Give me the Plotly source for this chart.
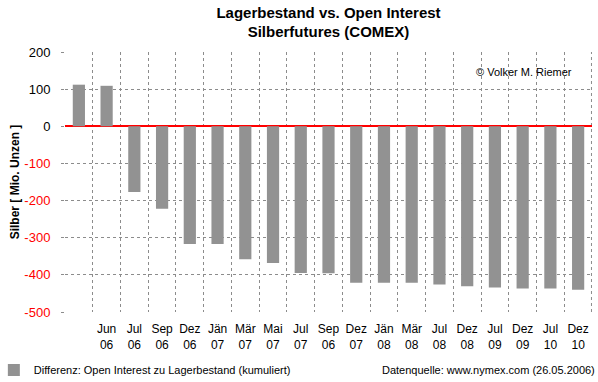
import plotly.graph_objects as go

# ---- data ----
categories = ["", "Jun<br>06", "Jul<br>06", "Sep<br>06", "Dez<br>06", "Jän<br>07", "Mär<br>07",
              "Mai<br>07", "Jul<br>07", "Sep<br>06", "Dez<br>07", "Jän<br>08", "Mär<br>08",
              "Jul<br>08", "Dez<br>08", "Jul<br>09", "Dez<br>09", "Jul<br>10", "Dez<br>10"]
values = [112, 109, -177, -222, -317, -317, -358, -368, -395, -396, -421, -421, -421,
          -426, -431, -434, -437, -437, -440]
y_ticks = [200, 100, 0, -100, -200, -300, -400, -500]

positions = list(range(len(categories)))
y_ticktext = [("<span style='color:#ff0000'>%d</span>" % v) if v < 0 else str(v) for v in y_ticks]

FONT = "Arial, Liberation Sans, sans-serif"
GRID = "#8c8c8c"

fig = go.Figure()
fig.add_trace(go.Bar(
    x=positions, y=values,
    name="Differenz: Open Interest zu Lagerbestand (kumuliert)",
    marker=dict(color="#929292", line=dict(width=0)),
    width=0.44,
))

fig.update_layout(
    width=598, height=382,
    paper_bgcolor="white", plot_bgcolor="white",
    margin=dict(l=65, r=6, t=52, b=70, autoexpand=False),
    font=dict(family=FONT, size=12, color="black"),
    title=dict(
        text="<b>Lagerbestand vs. Open Interest<br>Silberfutures (COMEX)</b>",
        x=0.5, xref="paper", xanchor="center",
        y=0.953, yref="container", yanchor="top",
        font=dict(family=FONT, size=15, color="black"),
    ),
    showlegend=True,
    legend=dict(
        x=-0.135, y=-0.223, xanchor="left", yanchor="middle",
        font=dict(family=FONT, size=11, color="black"),
        bgcolor="rgba(0,0,0,0)", itemwidth=30,
    ),
    bargap=0.5,
)

fig.update_xaxes(
    range=[-0.5, len(categories) - 0.5],
    tickmode="array", tickvals=positions, ticktext=categories,
    showgrid=False, zeroline=False, showline=False, automargin=False,
    ticks="", tickfont=dict(family=FONT, size=12, color="black"),
    tickangle=0, ticklabelstandoff=8,
    minor=dict(tick0=-0.5, dtick=1, showgrid=True, gridcolor=GRID,
               griddash="3px,3px", gridwidth=1),
)
fig.update_yaxes(
    range=[-500, 200],
    tickmode="array", tickvals=y_ticks, ticktext=y_ticktext,
    showgrid=True, gridcolor=GRID, griddash="3px,3px", gridwidth=1,
    zeroline=True, zerolinecolor="#ff0000", zerolinewidth=2,
    showline=False, ticks="outside", ticklen=3, tickcolor=GRID,
    tickfont=dict(family=FONT, size=13, color="black"), automargin=False,
    ticklabelstandoff=8,
    title=dict(text="<b>Silber [ Mio. Unzen ]</b>", font=dict(family=FONT, size=12), standoff=2),
)

# dashed frame on the right side of the plot area
fig.add_shape(type="line", xref="paper", yref="paper", x0=0.999, x1=0.999, y0=0, y1=1,
              line=dict(color=GRID, width=1, dash="3px,3px"), layer="below")

fig.add_annotation(
    text="© Volker M. Riemer", xref="paper", yref="paper",
    x=0.965, y=0.923, xanchor="right", yanchor="middle", showarrow=False,
    font=dict(family=FONT, size=11, color="black"),
)
fig.add_annotation(
    text="Datenquelle: www.nymex.com (26.05.2006)", xref="paper", yref="paper",
    x=1.0095, y=-0.223, xanchor="right", yanchor="middle", showarrow=False,
    font=dict(family=FONT, size=11, color="black"),
)

fig.write_html("out.html", config={"displayModeBar": False},
               post_script="document.body.style.margin='0';")
